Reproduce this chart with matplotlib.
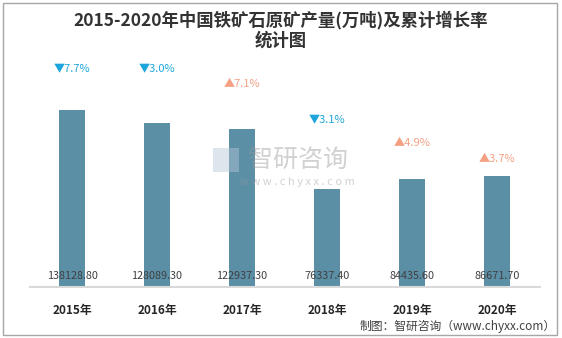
import matplotlib
matplotlib.use("Agg")
import matplotlib.pyplot as plt
import matplotlib.transforms as mtransforms
from matplotlib.patches import Rectangle

plt.rcParams['font.family'] = ['Noto Sans CJK SC', 'DejaVu Sans']

# data
years = ["2015年", "2016年", "2017年", "2018年", "2019年", "2020年"]
output = [138128.80, 128089.30, 122937.30, 76337.40, 84435.60, 86671.70]
growth = ["▼7.7%", "▼3.0%", "▲7.1%", "▼3.1%", "▲4.9%", "▲3.7%"]
growth_up = [False, False, True, False, True, True]
# height of each growth label (data units)
label_y = [170000, 170000, 158500, 130500, 112500, 100000]

bar_color = "#5b8fa6"
up_color = "#f4a083"
down_color = "#1ea6dc"

fig = plt.figure(figsize=(5.62, 3.38), dpi=100)
ax = fig.add_axes([29.5 / 562, 51 / 338, 510 / 562, 227 / 338])

x = range(len(years))
ax.bar(x, output, width=0.31, color=bar_color, zorder=2)
ax.set_xlim(-0.5, 5.5)
ax.set_ylim(0, 177150)

# value labels near the bottom of each bar
trans = mtransforms.blended_transform_factory(ax.transData, ax.transAxes)
for i, v in enumerate(output):
    ax.text(i, 0.048, f"{v:.2f}", transform=trans, ha="center", va="center",
            fontsize=7.8, color="#404040", zorder=4)

# growth labels
for i, g in enumerate(growth):
    c = up_color if growth_up[i] else down_color
    ax.text(i, label_y[i], g, ha="center", va="center", fontsize=8, color=c)

for s in ["top", "right", "left"]:
    ax.spines[s].set_visible(False)
ax.spines["bottom"].set_color("#d9d9d9")
ax.spines["bottom"].set_linewidth(1.5)
ax.set_yticks([])
ax.set_xticks(list(x))
ax.set_xticklabels(years, fontsize=8.5, fontweight="bold", color="#262626")
ax.tick_params(axis="x", length=0, pad=12)

# watermark
fig.text(0.53, 0.527, "智研咨询", fontsize=18, color="#9a9a9a", alpha=0.45,
         ha="center", va="center", zorder=5)
fig.text(0.53, 0.462, "w w w . c h y x x . c o m", fontsize=8, color="#9a9a9a",
         alpha=0.45, ha="center", va="center", zorder=5)
fig.patches.append(Rectangle((213 / 562, 1 - 172 / 338), 26 / 562, 24 / 338,
                             transform=fig.transFigure, facecolor="#b8c6d8",
                             alpha=0.45, edgecolor="none", zorder=5))

fig.text(0.5, 0.94, "2015-2020年中国铁矿石原矿产量(万吨)及累计增长率",
         ha="center", va="center", fontsize=12.5, fontweight="bold", color="#333333")
fig.text(0.5, 0.88, "统计图", ha="center", va="center", fontsize=12.5,
         fontweight="bold", color="#333333")

fig.text(556 / 562, 1 - 326 / 338, "制图：智研咨询（www.chyxx.com）", ha="right",
         va="center", fontsize=8.5, color="#404040")

fig.patches.append(Rectangle((3 / 562, 3 / 338), 554 / 562, 332 / 338,
                             transform=fig.transFigure, fill=False,
                             edgecolor="#a6a6a6", linewidth=1))

fig.savefig("out.png", dpi=100)
